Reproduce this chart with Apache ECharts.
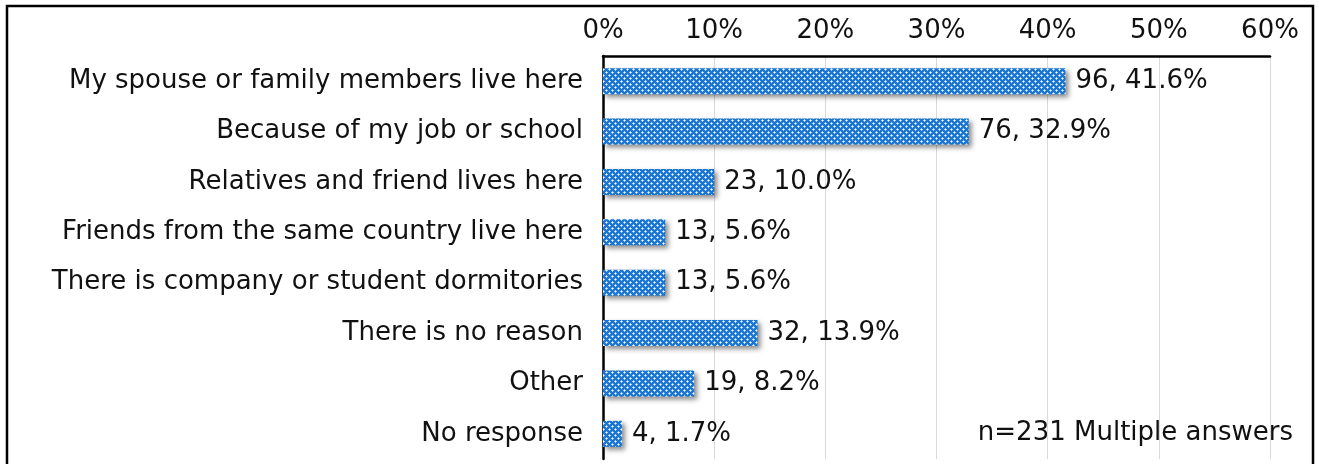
<!DOCTYPE html>
<html>
<head>
<meta charset="utf-8">
<script src="https://cdn.jsdelivr.net/npm/echarts@6/dist/echarts.min.js"></script>
<style>
  html, body { margin: 0; padding: 0; background: #fff; }
  #chart { width: 1319px; height: 464px; }
</style>
</head>
<body>
<div id="chart"></div>
<script>
// Reasons for choosing the current place of residence (n=231, multiple answers)
const categories = [
  'My spouse or family members live here',
  'Because of my job or school',
  'Relatives and friend lives here',
  'Friends from the same country live here',
  'There is company or student dormitories',
  'There is no reason',
  'Other',
  'No response'
];
const counts = [96, 76, 23, 13, 13, 32, 19, 4];
const percents = [41.6, 32.9, 10.0, 5.6, 5.6, 13.9, 8.2, 1.7];
const tickValues = [0, 10, 20, 30, 40, 50, 60];
const note = 'n=231 Multiple answers';

const FONT = '"DejaVu Sans", "Noto Sans", sans-serif';
const FONT_SIZE = 26;
const TEXT_COLOR = '#111';

// Blue dotted fill for the bars
function makePattern() {
  const c = document.createElement('canvas');
  c.width = 6; c.height = 6;
  const g = c.getContext('2d');
  g.fillStyle = '#1a76d2';
  g.fillRect(0, 0, 6, 6);
  g.fillStyle = '#ffffff';
  g.fillRect(0, 0, 1, 1);
  g.fillRect(3, 3, 1, 1);
  g.fillStyle = '#a6cff5';
  g.fillRect(1, 0, 1, 1);
  g.fillRect(0, 1, 1, 1);
  g.fillRect(4, 3, 1, 1);
  g.fillRect(3, 4, 1, 1);
  g.fillRect(5, 0, 1, 1);
  g.fillRect(0, 5, 1, 1);
  g.fillRect(2, 3, 1, 1);
  g.fillRect(3, 2, 1, 1);
  return c;
}

const chart = echarts.init(document.getElementById('chart'), null, { renderer: 'canvas' });

chart.setOption({
  animation: false,
  backgroundColor: '#ffffff',
  grid: { left: 603, top: 56, width: 667, bottom: 5, containLabel: false },
  xAxis: {
    type: 'value',
    position: 'top',
    min: tickValues[0],
    max: tickValues[tickValues.length - 1],
    interval: tickValues[1] - tickValues[0],
    axisLine: { show: true, lineStyle: { color: '#000', width: 2.5 } },
    axisTick: { show: false },
    axisLabel: {
      margin: 12,
      formatter: v => v + '%',
      fontFamily: FONT, fontSize: FONT_SIZE, color: TEXT_COLOR
    },
    splitLine: { show: true, lineStyle: { color: '#d9d9d9', width: 1 } }
  },
  yAxis: {
    type: 'category',
    inverse: true,
    data: categories,
    axisLine: { show: true, lineStyle: { color: '#000', width: 2.5 } },
    axisTick: { show: false },
    axisLabel: { margin: 20, fontFamily: FONT, fontSize: FONT_SIZE, color: TEXT_COLOR }
  },
  series: [{
    type: 'bar',
    data: percents,
    barWidth: 26,
    itemStyle: {
      color: { image: makePattern(), repeat: 'repeat' },
      shadowColor: 'rgba(0,0,0,0.45)',
      shadowBlur: 5,
      shadowOffsetX: 3,
      shadowOffsetY: 3
    },
    label: {
      show: true,
      position: 'right',
      distance: 10,
      formatter: p => counts[p.dataIndex] + ', ' + percents[p.dataIndex].toFixed(1) + '%',
      fontFamily: FONT, fontSize: FONT_SIZE, color: TEXT_COLOR
    }
  }],
  graphic: [
    {
      type: 'rect',
      shape: { x: 7, y: 6, width: 1306, height: 480 },
      style: { fill: 'none', stroke: '#000', lineWidth: 2.5 },
      silent: true
    },
    {
      type: 'text',
      right: 26,
      top: 420,
      style: { text: note, fontFamily: FONT, fontSize: FONT_SIZE, fill: TEXT_COLOR },
      silent: true
    }
  ]
});
</script>
</body>
</html>
